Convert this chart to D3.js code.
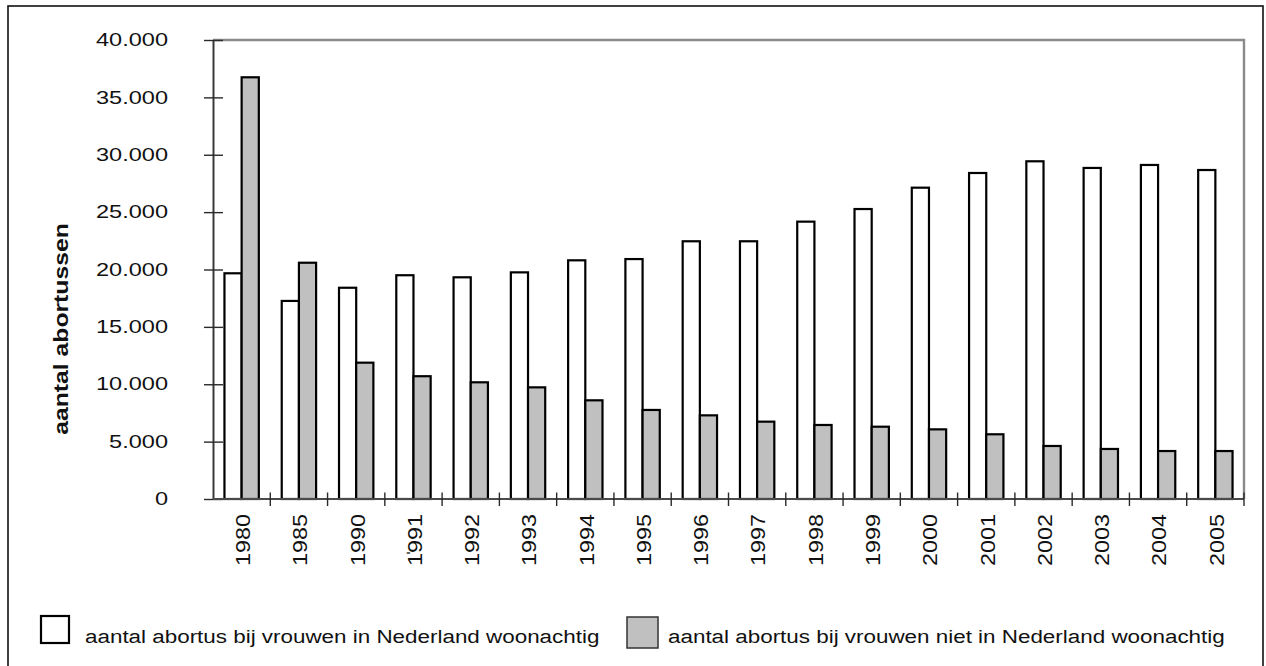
<!DOCTYPE html>
<html>
<head>
<meta charset="utf-8">
<script src="https://cdn.jsdelivr.net/npm/d3@7"></script>
<style>
  html, body { margin: 0; padding: 0; background: #fff; }
  svg { display: block; }
  text { font-family: "Liberation Sans", Arial, sans-serif; fill: #111; }
</style>
</head>
<body>
<svg id="chart" width="1266" height="666"></svg>
<script>
// Abortions in the Netherlands, by residence of the woman
const years = ["1980","1985","1990","1991","1992","1993","1994","1995","1996","1997","1998","1999","2000","2001","2002","2003","2004","2005"];
const yearLabels = ["1980","1985","1990","1\u030D991","1992","1993","1994","1995","1996","1997","1998","1999","2000","2001","2002","2003","2004","2005"];
const residents    = [19670,17260,18410,19500,19320,19750,20800,20910,22460,22460,24170,25270,27130,28410,29430,28850,29110,28670];
const nonResidents = [36750,20590,11880,10700,10170,9730,8600,7760,7290,6740,6450,6300,6070,5640,4620,4360,4180,4180];
const yTicks = [0,5000,10000,15000,20000,25000,30000,35000,40000];
const yTitle = "aantal abortussen";
const seriesNames = [
  "aantal abortus bij vrouwen in Nederland woonachtig",
  "aantal abortus bij vrouwen niet in Nederland woonachtig"
];
const seriesFill = ["#ffffff", "#c0c0c0"];

const svg = d3.select("#chart");
const plot = { left: 213, right: 1244, top: 40, bottom: 499 };

// outer frame
svg.append("rect")
  .attr("x", 8).attr("y", 6).attr("width", 1255).attr("height", 700)
  .attr("fill", "none").attr("stroke", "#111").attr("stroke-width", 1.6);

const x = d3.scaleBand().domain(years).range([plot.left, plot.right])
  .paddingInner(0.4).paddingOuter(0.2);
const xSub = d3.scaleBand().domain([0, 1]).range([0, x.bandwidth()]);
const y = d3.scaleLinear().domain([0, 40000]).range([plot.bottom, plot.top]);

// top and right edges of the plot area
svg.append("path")
  .attr("d", `M${plot.left},${plot.top}H${plot.right}V${plot.bottom}`)
  .attr("fill", "none").attr("stroke", "#8a8a8a").attr("stroke-width", 2.4);

// bars
const series = [residents, nonResidents];
series.forEach((vals, s) => {
  svg.append("g").selectAll("rect")
    .data(years.map((yr, i) => ({ yr, v: vals[i] })))
    .join("rect")
    .attr("x", d => x(d.yr) + xSub(s))
    .attr("y", d => y(d.v))
    .attr("width", xSub.bandwidth())
    .attr("height", d => y(0) - y(d.v))
    .attr("fill", seriesFill[s])
    .attr("stroke", "#000")
    .attr("stroke-width", 2.2);
});

// y axis (crossing ticks)
const yAxis = svg.append("g").attr("transform", `translate(${plot.left},0)`)
  .call(d3.axisLeft(y).tickValues(yTicks).tickSize(0).tickFormat(""));
yAxis.select(".domain").attr("stroke", "#3a3a3a").attr("stroke-width", 2);
yAxis.selectAll(".tick").append("line")
  .attr("x1", -9).attr("x2", 10)
  .attr("stroke", "#2a2a2a").attr("stroke-width", 1.4);

const fmt = d3.formatLocale({ decimal: ",", thousands: ".", grouping: [3], currency: ["€", ""] }).format(",");
svg.append("g").selectAll("g")
  .data(yTicks)
  .join("g")
  .attr("transform", d => `translate(168,${y(d)}) scale(1.24,1)`)
  .append("text")
  .attr("text-anchor", "end")
  .attr("dominant-baseline", "central")
  .attr("font-size", 19)
  .text(d => fmt(d));

// x axis with ticks between categories
const step = x.step();
const bounds = d3.range(years.length + 1).map(i => plot.left + i * (plot.right - plot.left) / years.length);
svg.append("line")
  .attr("x1", plot.left).attr("x2", plot.right)
  .attr("y1", y(0)).attr("y2", y(0))
  .attr("stroke", "#4a4a4a").attr("stroke-width", 2);
svg.append("g").selectAll("line")
  .data(bounds.slice(1))
  .join("line")
  .attr("x1", d => d).attr("x2", d => d)
  .attr("y1", y(0) - 6.5).attr("y2", y(0) + 7)
  .attr("stroke", "#2a2a2a").attr("stroke-width", 1.4);

svg.append("g").selectAll("g")
  .data(years)
  .join("g")
  .attr("transform", d => `translate(${x(d) + x.bandwidth() / 2 + 2},514) rotate(-90) scale(1.2,1)`)
  .append("text")
  .attr("text-anchor", "end")
  .attr("dominant-baseline", "central")
  .attr("font-size", 19.5)
  .text((d, i) => yearLabels[i]);

// y axis title
svg.append("g")
  .attr("transform", "translate(61,329) rotate(-90) scale(1.27,1)")
  .append("text")
  .attr("text-anchor", "middle")
  .attr("dominant-baseline", "central")
  .attr("font-size", 19.5)
  .attr("font-weight", "bold")
  .text(yTitle);

// legend
const legend = [
  { box: [41, 616, 28, 27], sw: 2.2, stroke: "#000", tx: 85 },
  { box: [627, 617, 31, 31], sw: 1.5, stroke: "#333", tx: 668 }
];
legend.forEach((l, i) => {
  svg.append("rect")
    .attr("x", l.box[0]).attr("y", l.box[1])
    .attr("width", l.box[2]).attr("height", l.box[3])
    .attr("fill", seriesFill[i]).attr("stroke", l.stroke).attr("stroke-width", l.sw);
  svg.append("g")
    .attr("transform", `translate(${l.tx},643) scale(1.18,1)`)
    .append("text")
    .attr("font-size", 19)
    .text(seriesNames[i]);
});
</script>
</body>
</html>
